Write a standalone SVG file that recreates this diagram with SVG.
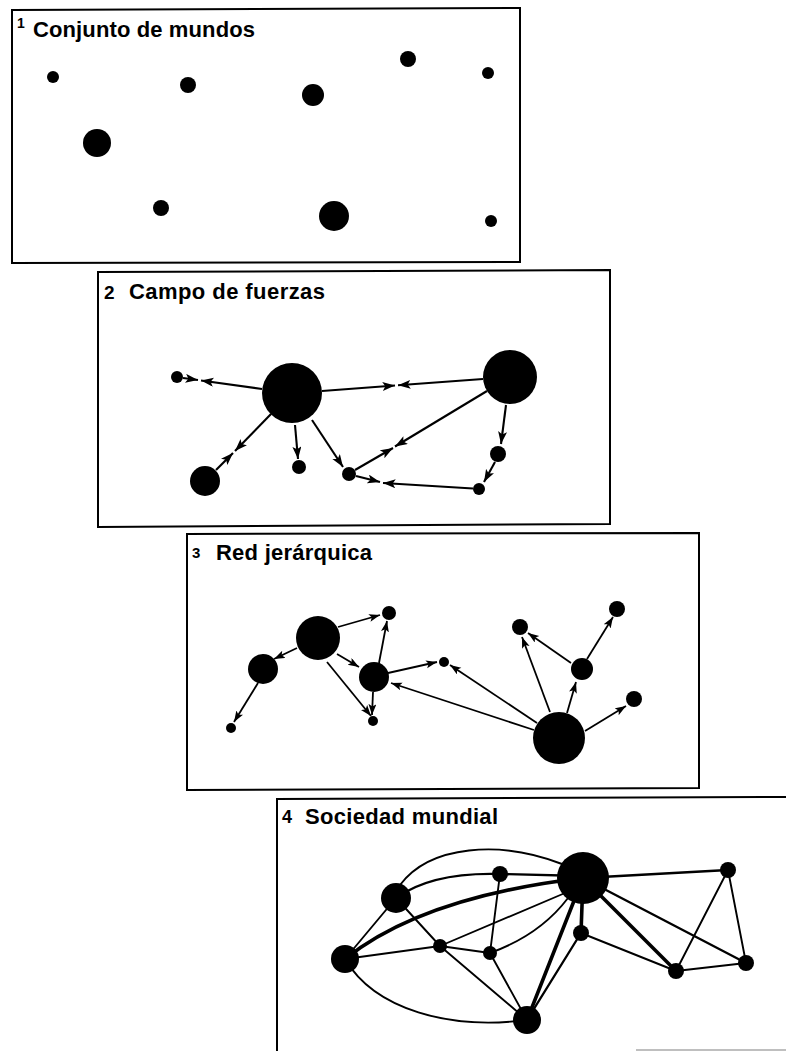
<svg xmlns="http://www.w3.org/2000/svg" width="786" height="1051" viewBox="0 0 786 1051">
<defs>
<style>
.frame{fill:none;stroke:#000;stroke-width:2}
.t{font-family:"Liberation Sans",Arial,sans-serif;font-weight:bold;fill:#000}
.n{fill:#000}
.e{fill:none;stroke:#000;stroke-width:1.9;stroke-linecap:round}
.a{fill:none;stroke:#000;stroke-width:2.1;marker-end:url(#arr)}
.as{fill:none;stroke:#000;stroke-width:1.8;marker-end:url(#arrs)}
.m{stroke-width:2.3}
.k{stroke-width:3.6}
</style>
<marker id="arr" markerUnits="userSpaceOnUse" markerWidth="14" markerHeight="10" refX="12.5" refY="4.5" orient="auto">
<path d="M0,0 L12.5,4.5 L0,9 L2.8,4.5 z" fill="#000"/>
</marker>
<marker id="arrs" markerUnits="userSpaceOnUse" markerWidth="12" markerHeight="9" refX="11" refY="4" orient="auto">
<path d="M0,0 L11,4 L0,8 L2.5,4 z" fill="#000"/>
</marker>
</defs>
<rect width="786" height="1051" fill="#fff"/>

<!-- Panel 1 -->
<g id="panel1">
<polygon class="frame" points="12,10 520,8 520,262 12,263"/>
<text class="t" x="17" y="28" font-size="14">1</text>
<text class="t" x="33" y="37" font-size="22" textLength="222" lengthAdjust="spacing">Conjunto de mundos</text>
<g id="p1n1"><circle class="n" cx="53" cy="77" r="6"/></g>
<g id="p1n2"><circle class="n" cx="188" cy="85" r="8"/></g>
<g id="p1n3"><circle class="n" cx="313" cy="95" r="11"/></g>
<g id="p1n4"><circle class="n" cx="97" cy="143" r="14"/></g>
<g id="p1n5"><circle class="n" cx="161" cy="208" r="8"/></g>
<g id="p1n6"><circle class="n" cx="334" cy="216" r="15"/></g>
<g id="p1n7"><circle class="n" cx="408" cy="59" r="8"/></g>
<g id="p1n8"><circle class="n" cx="488" cy="73" r="6"/></g>
<g id="p1n9"><circle class="n" cx="491" cy="221" r="6"/></g>
</g>

<!-- Panel 2 -->
<g id="panel2">
<polygon class="frame" points="98,272 610,270 610,524 98,527"/>
<text class="t" x="104" y="299" font-size="19">2</text>
<text class="t" x="129" y="299" font-size="22" textLength="196" lengthAdjust="spacing">Campo de fuerzas</text>
<g id="p2-connectors">
<path class="a" d="M183,378 L198,380"/>
<path class="a" d="M262,389 L201,380.5"/>
<path class="a" d="M322,391 L395,385.5"/>
<path class="a" d="M483,379 L398,385.3"/>
<path class="a" d="M271,414 L235,451"/>
<path class="a" d="M216,470 L233,453"/>
<path class="a" d="M487,391 L395,446.5"/>
<path class="a" d="M355,470 L393,448"/>
<path class="a" d="M356,476 L380,482"/>
<path class="a" d="M473,488.5 L383,483"/>
<path class="a" d="M295,425 L298,459"/>
<path class="a" d="M312,420 L343,467"/>
<path class="a" d="M506,405 L501,444"/>
<path class="a" d="M495,462 L484,482"/>
</g>
<g id="p2A"><circle class="n" cx="177" cy="377" r="6"/></g>
<g id="p2B"><circle class="n" cx="292" cy="393" r="30"/></g>
<g id="p2C"><circle class="n" cx="205" cy="481" r="15"/></g>
<g id="p2D"><circle class="n" cx="299" cy="467" r="7"/></g>
<g id="p2E"><circle class="n" cx="349" cy="474" r="7"/></g>
<g id="p2F"><circle class="n" cx="510" cy="377" r="27"/></g>
<g id="p2G"><circle class="n" cx="498" cy="454" r="8"/></g>
<g id="p2H"><circle class="n" cx="479" cy="489" r="6"/></g>
</g>

<!-- Panel 3 -->
<g id="panel3">
<polygon class="frame" points="187,534 699,533 699,788 187,790"/>
<text class="t" x="192" y="558" font-size="15">3</text>
<text class="t" x="216" y="560" font-size="22" textLength="156" lengthAdjust="spacing">Red jerárquica</text>
<g id="p3-connectors">
<path class="as" d="M338,627 L380,615"/>
<path class="as" d="M379,663 L387,621"/>
<path class="as" d="M297,648 L274,659"/>
<path class="as" d="M337,654 L359,667"/>
<path class="as" d="M327,662 L371,716"/>
<path class="as" d="M373,692 L372,715"/>
<path class="as" d="M388,673 L437,662"/>
<path class="as" d="M258,683 L234,722"/>
<path class="as" d="M534,730 L391,683"/>
<path class="as" d="M537,723 L450,665"/>
<path class="as" d="M550,712 L522,637"/>
<path class="as" d="M571,663 L528,633"/>
<path class="as" d="M567,713 L576,682"/>
<path class="as" d="M587,659 L613,617"/>
<path class="as" d="M585,731 L626,706"/>
</g>
<g id="p3P"><circle class="n" cx="318" cy="638" r="22"/></g>
<g id="p3Q"><circle class="n" cx="263" cy="669" r="15"/></g>
<g id="p3R"><circle class="n" cx="231" cy="728" r="5"/></g>
<g id="p3S"><circle class="n" cx="374" cy="677" r="15"/></g>
<g id="p3T"><circle class="n" cx="389" cy="613" r="7"/></g>
<g id="p3U"><circle class="n" cx="373" cy="721" r="5"/></g>
<g id="p3V"><circle class="n" cx="444" cy="662" r="5"/></g>
<g id="p3W"><circle class="n" cx="559" cy="738" r="26"/></g>
<g id="p3X"><circle class="n" cx="520" cy="627" r="8"/></g>
<g id="p3Y"><circle class="n" cx="582" cy="669" r="11"/></g>
<g id="p3Z"><circle class="n" cx="617" cy="609" r="8"/></g>
<g id="p3AA"><circle class="n" cx="634" cy="699" r="8"/></g>
</g>

<!-- Panel 4 -->
<g id="panel4">
<path class="frame" d="M277,1051 L277,799 L786,797"/>
<path d="M636,1050 L786,1050" stroke="#aaa" stroke-width="1.5" fill="none"/>
<text class="t" x="282" y="823" font-size="18">4</text>
<text class="t" x="305" y="824" font-size="22" textLength="193" lengthAdjust="spacing">Sociedad mundial</text>
<g id="p4-connectors">
<path class="e" d="M396,898 L345,959"/>
<path class="e" d="M400,885 C430,845 500,840 562,864"/>
<path class="e m" d="M396,898 Q432,872 500,874 L583,876"/>
<path class="e k" d="M345,959 C400,915 480,890 583,878"/>
<path class="e" d="M345,959 L440,946"/>
<path class="e" d="M396,898 L440,946"/>
<path class="e" d="M440,946 L565,893"/>
<path class="e" d="M440,946 L490,953"/>
<path class="e" d="M440,946 L527,1020"/>
<path class="e" d="M500,874 L490,953"/>
<path class="e" d="M490,953 Q540,935 568,898"/>
<path class="e" d="M490,953 L527,1020"/>
<path class="e" d="M345,959 C375,1010 450,1030 527,1020"/>
<path class="e k" d="M583,878 L527,1020"/>
<path class="e m" d="M581,933 L527,1020"/>
<path class="e k" d="M583,878 L581,933"/>
<path class="e" d="M581,933 L676,971"/>
<path class="e k" d="M583,878 L676,971"/>
<path class="e m" d="M583,878 L746,963"/>
<path class="e m" d="M583,878 L728,870"/>
<path class="e" d="M728,870 L676,971"/>
<path class="e" d="M728,870 L746,963"/>
<path class="e" d="M676,971 L746,963"/>
</g>
<g id="p4hub"><circle class="n" cx="583" cy="878" r="26"/></g>
<g id="p4n1"><circle class="n" cx="396" cy="898" r="15"/></g>
<g id="p4n2"><circle class="n" cx="345" cy="959" r="14"/></g>
<g id="p4n3"><circle class="n" cx="440" cy="946" r="7"/></g>
<g id="p4n4"><circle class="n" cx="500" cy="874" r="8"/></g>
<g id="p4n5"><circle class="n" cx="490" cy="953" r="7"/></g>
<g id="p4n6"><circle class="n" cx="527" cy="1020" r="14"/></g>
<g id="p4n7"><circle class="n" cx="581" cy="933" r="8"/></g>
<g id="p4n8"><circle class="n" cx="728" cy="870" r="8"/></g>
<g id="p4n9"><circle class="n" cx="676" cy="971" r="8"/></g>
<g id="p4n10"><circle class="n" cx="746" cy="963" r="8"/></g>
</g>
</svg>
